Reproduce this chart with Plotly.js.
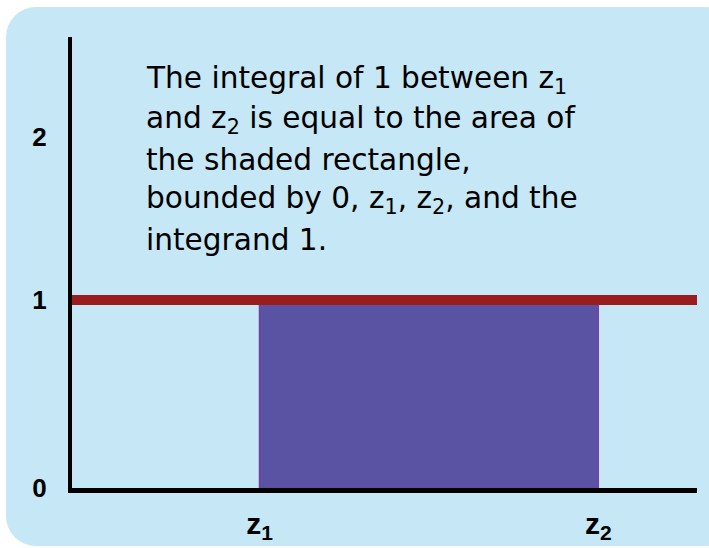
<!DOCTYPE html>
<html>
<head>
<meta charset="utf-8">
<script src="https://cdn.plot.ly/plotly-3.0.1.min.js"></script>
<style>
  html, body { margin: 0; padding: 0; background: #ffffff; width: 709px; height: 548px; overflow: hidden; }
  #bg { position: absolute; left: 6px; top: 7px; width: 730px; height: 539px; border-radius: 30px; background: #c6e7f6; }
  #chart { position: absolute; left: 0; top: 0; width: 709px; height: 548px; }
</style>
</head>
<body>
<div id="bg"></div>
<div id="chart"></div>
<script>
// Data
const xMin = 0, xMax = 10;
const yMin = 0, yMax = 2.4;
const z1 = 3.0, z2 = 8.42;
const integrand = 1;
const yTickVals = [0, 1, 1.87];
const yTickText = ['0', '1', '2'];
const xTickVals = [z1, z2];
const xTickText = ['z<sub>1</sub>', 'z<sub>2</sub>'];
const textLines = [
  'The integral of 1 between z<sub>1</sub>',
  'and z<sub>2</sub> is equal to the area of',
  'the shaded rectangle,',
  'bounded by 0, z<sub>1</sub>, z<sub>2</sub>, and the',
  'integrand 1.'
];
const textLineCentersPx = [80, 120, 160, 200, 240];

const plotTop = 37, plotBottom = 488;

const rect = {
  x: [z1, z1, z2, z2, z1],
  y: [0, integrand, integrand, 0, 0],
  type: 'scatter', mode: 'lines', fill: 'toself',
  fillcolor: '#5a52a3',
  line: { color: '#7a3fa5', width: 1.5 },
  hoverinfo: 'skip', showlegend: false
};
const redLine = {
  x: [xMin, xMax], y: [integrand, integrand],
  type: 'scatter', mode: 'lines',
  line: { color: '#9b1c1f', width: 10 },
  hoverinfo: 'skip', showlegend: false
};

const annotations = textLines.map((t, i) => ({
  text: t, xref: 'paper', yref: 'paper',
  x: (144 - 72) / 625,
  y: (plotBottom - textLineCentersPx[i]) / (plotBottom - plotTop),
  xanchor: 'left', yanchor: 'middle', align: 'left', showarrow: false,
  font: { family: 'DejaVu Sans', size: 29.6, color: '#000000' }
}));

const layout = {
  width: 709, height: 548,
  margin: { l: 72, r: 12, t: plotTop, b: 548 - plotBottom, pad: 0 },
  paper_bgcolor: 'rgba(0,0,0,0)', plot_bgcolor: 'rgba(0,0,0,0)',
  showlegend: false,
  xaxis: {
    range: [xMin, xMax], showgrid: false, zeroline: false,
    showline: true, linecolor: '#000000', linewidth: 5,
    tickvals: xTickVals, ticktext: xTickText, ticks: '',
    ticklabelstandoff: 5,
    tickfont: { family: 'Liberation Sans', size: 30, color: '#000000', weight: 'bold' },
    fixedrange: true
  },
  yaxis: {
    range: [yMin, yMax], showgrid: false, zeroline: false,
    showline: true, linecolor: '#000000', linewidth: 4,
    tickvals: yTickVals, ticktext: yTickText, ticks: '',
    ticklabelstandoff: 16,
    tickfont: { family: 'Liberation Sans', size: 26, color: '#000000', weight: 'bold' },
    fixedrange: true
  },
  annotations: annotations
};

Plotly.newPlot('chart', [rect, redLine], layout, { displayModeBar: false, staticPlot: true });
</script>
</body>
</html>
